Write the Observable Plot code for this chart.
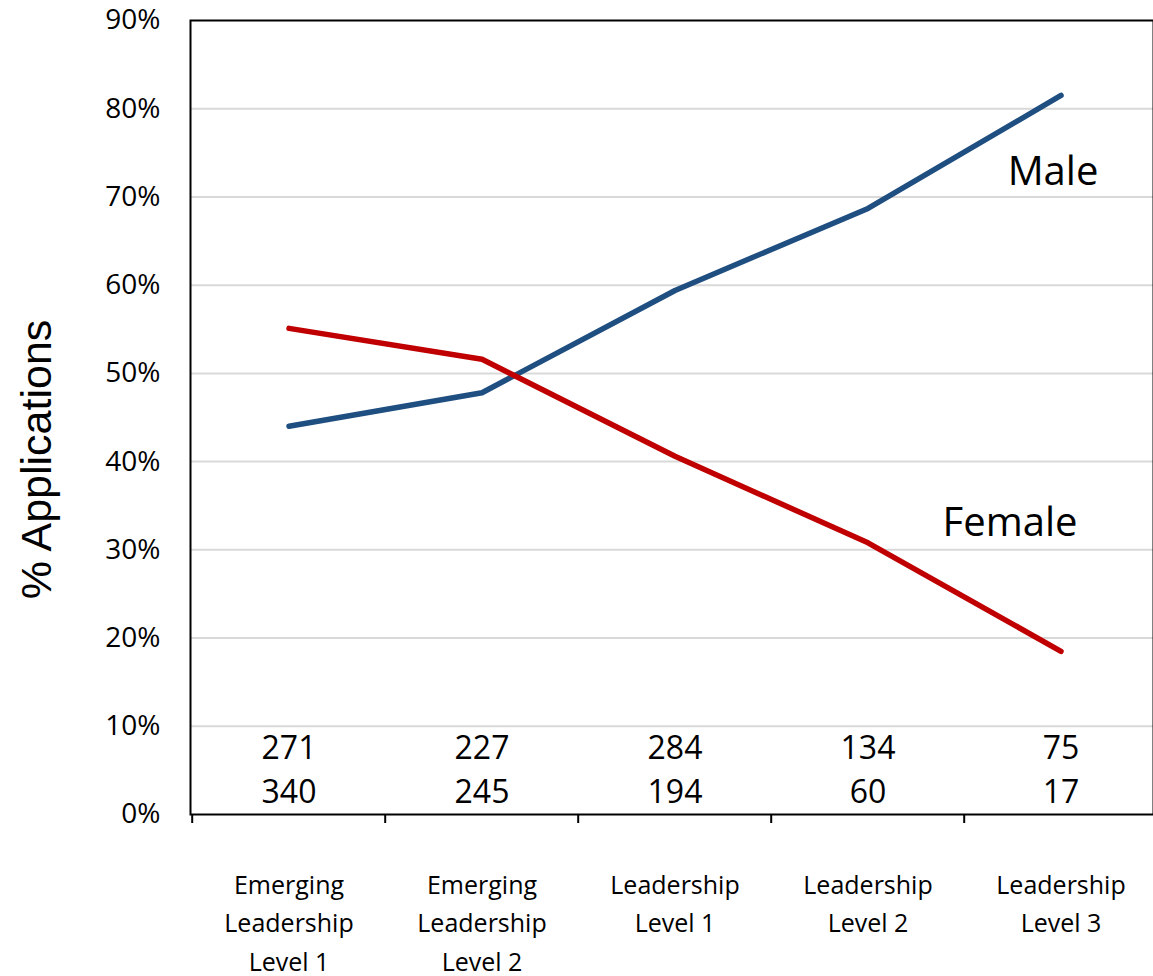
<!DOCTYPE html>
<html>
<head>
<meta charset="utf-8">
<script src="https://cdn.jsdelivr.net/npm/d3@7"></script>
<script src="https://cdn.jsdelivr.net/npm/@observablehq/plot@0.6"></script>
<style>
  html, body { margin: 0; padding: 0; background: #fff; }
</style>
</head>
<body>
<div id="chart"></div>
<script>
const categories = ["Emerging\nLeadership\nLevel 1", "Emerging\nLeadership\nLevel 2", "Leadership\nLevel 1", "Leadership\nLevel 2", "Leadership\nLevel 3"];
const maleShare = [0.440, 0.478, 0.594, 0.687, 0.815];
const femaleShare = [0.551, 0.516, 0.406, 0.308, 0.185];
const maleCounts = [271, 227, 284, 134, 75];
const femaleCounts = [340, 245, 194, 60, 17];
const yTicks = [0, 0.1, 0.2, 0.3, 0.4, 0.5, 0.6, 0.7, 0.8, 0.9];
const seriesNames = ["Male", "Female"];

const rows = [];
categories.forEach((c, i) => {
  rows.push({cat: c, v: maleShare[i], s: seriesNames[0]});
  rows.push({cat: c, v: femaleShare[i], s: seriesNames[1]});
});
const counts = categories.map((c, i) => ({cat: c, m: maleCounts[i], f: femaleCounts[i]}));
const last = categories.length - 1;
const left = 190, right = 1158;
const bw = (right - left) / categories.length;

const chart = Plot.plot({
  width: 1153,
  height: 976,
  marginLeft: 190,
  marginTop: 20,
  marginBottom: 162,
  marginRight: 0,
  style: {fontFamily: "'Open Sans', sans-serif", fontSize: "28px", color: "#000", background: "#fff", overflow: "visible"},
  x: {type: "band", domain: categories, range: [left, right], padding: 0, axis: null},
  y: {domain: [0, 0.9], ticks: yTicks, tickFormat: d3.format(".0%"), tickSize: 0, tickPadding: 30, label: null},
  color: {domain: seriesNames, range: ["#1f4e80", "#c00000"]},
  marks: [
    Plot.ruleY(yTicks.slice(1, -1), {stroke: "#d9d9d9", strokeWidth: 2}),
    Plot.frame({stroke: "#000", strokeWidth: 2}),
    Plot.ruleX(categories, {x: d => d, dx: -bw / 2, y1: 0, y2: 0, insetBottom: -9, stroke: "#000", strokeWidth: 2}),
    Plot.line(rows, {x: "cat", y: "v", z: "s", stroke: "s", strokeWidth: 5.5, strokeLinecap: "round", strokeLinejoin: "round"}),
    Plot.text(counts, {x: "cat", text: d => String(d.m), frameAnchor: "bottom", dy: -66, lineAnchor: "middle", fontSize: 32}),
    Plot.text(counts, {x: "cat", text: d => String(d.f), frameAnchor: "bottom", dy: -22, lineAnchor: "middle", fontSize: 32}),
    Plot.text(categories, {x: d => d, text: d => d, frameAnchor: "bottom", dy: 52, lineAnchor: "top", lineHeight: 1.54, fontSize: 25}),
    Plot.text([{cat: categories[last], v: maleShare[last], s: seriesNames[0]}], {x: "cat", y: "v", text: "s", dx: -8, dy: 77, fontSize: 40}),
    Plot.text([{cat: categories[last], v: femaleShare[last], s: seriesNames[1]}], {x: "cat", y: "v", text: "s", dx: -51, dy: -128, fontSize: 40}),
    Plot.text(["% Applications"], {text: d => d, frameAnchor: "left", textAnchor: "middle", dx: -153, dy: 42, rotate: -90, fontSize: 43, fontFamily: "'Liberation Sans', Arial, sans-serif"})
  ]
});
document.getElementById("chart").appendChild(chart);
</script>
</body>
</html>
